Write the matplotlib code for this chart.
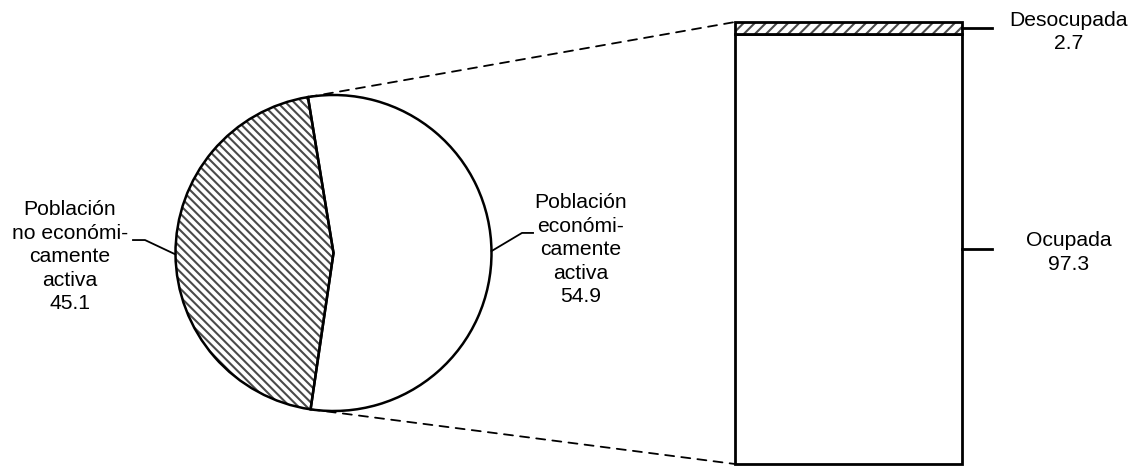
import matplotlib
matplotlib.use('Agg')
import matplotlib.pyplot as plt
from matplotlib.patches import ConnectionPatch
import numpy as np

plt.rcParams['font.family'] = ['Liberation Sans', 'DejaVu Sans']
plt.rcParams['hatch.linewidth'] = 1.5

# data
pie_labels = ['Población\nno económi-\ncamente\nactiva', 'Población\neconómi-\ncamente\nactiva']
pie_values = [45.1, 54.9]
bar_labels = ['Ocupada', 'Desocupada']
bar_values = [97.3, 2.7]

W, H = 1141, 468
fig = plt.figure(figsize=(W / 100, H / 100), dpi=100)

# pie axes (centre ~ (333, 253) px, radius ~158 px)
cx, cy, r = 333.5, 253, 158
ax1 = fig.add_axes([(cx - r) / W, (H - cy - r) / H, 2 * r / W, 2 * r / H])
start = 99.3
wedges, _ = ax1.pie(pie_values, startangle=start, counterclock=True,
                    colors=['white', 'white'], radius=1,
                    wedgeprops=dict(linewidth=0, edgecolor='#4a4a4a'))
wedges[0].set_hatch('\\\\\\\\')
ax1.pie(pie_values, startangle=start, counterclock=True, radius=1,
        wedgeprops=dict(linewidth=1.8, edgecolor='black', facecolor='none'))
ax1.set_xlim(-1, 1)
ax1.set_ylim(-1, 1)
ax1.set_aspect('equal')
ax1.axis('off')

fs = 15.2
ls = 1.3
# left label
ax1.plot([-1.0, -1.193, -1.269], [-0.009, 0.082, 0.082], color='black', lw=1.3, clip_on=False)
ax1.text(-1.668, -0.025, f'{pie_labels[0]}\n{pie_values[0]}', ha='center', va='center',
         fontsize=fs, linespacing=ls)
# right label
ax1.plot([1.0, 1.193, 1.263], [0.012, 0.127, 0.127], color='black', lw=1.3, clip_on=False)
ax1.text(1.566, 0.02, f'{pie_labels[1]}\n{pie_values[1]}', ha='center', va='center',
         fontsize=fs, linespacing=ls)

# stacked bar axes
bx0, bx1, by0, by1 = 735, 962, 22, 464
ax2 = fig.add_axes([bx0 / W, (H - by1) / H, (bx1 - bx0) / W, (by1 - by0) / H])
bottom = 0
for i, (lab, val) in enumerate(zip(bar_labels, bar_values)):
    b = ax2.bar(0.5, val, width=1, bottom=bottom, color='white', edgecolor='#4a4a4a', linewidth=0)
    if i == 1:
        b[0].set_hatch('///')
    ax2.bar(0.5, val, width=1, bottom=bottom, facecolor='none', edgecolor='black',
            linewidth=2.0, clip_on=False)
    yc = bottom + val / 2
    ax2.plot([1.0, 1.13], [yc, yc], color='black', lw=2.0, clip_on=False)
    ty = yc - 0.8 if i == 0 else yc - 0.9
    ax2.text(1.47, ty, f'{lab}\n{val}', ha='center', va='center',
             fontsize=fs, linespacing=ls)
    bottom += val
ax2.set_xlim(0, 1)
ax2.set_ylim(0, sum(bar_values))
ax2.axis('off')

# dashed connectors
a_top = np.deg2rad(start)
a_bot = np.deg2rad(start + 360 * pie_values[0] / 100)
for ang, yb in [(a_top, sum(bar_values)), (a_bot, 0)]:
    con = ConnectionPatch(xyA=(np.cos(ang), np.sin(ang)), coordsA=ax1.transData,
                          xyB=(0, yb), coordsB=ax2.transData,
                          color='black', linestyle=(0, (5, 4)), linewidth=1.3)
    fig.add_artist(con)

fig.savefig('out.png', dpi=100)
